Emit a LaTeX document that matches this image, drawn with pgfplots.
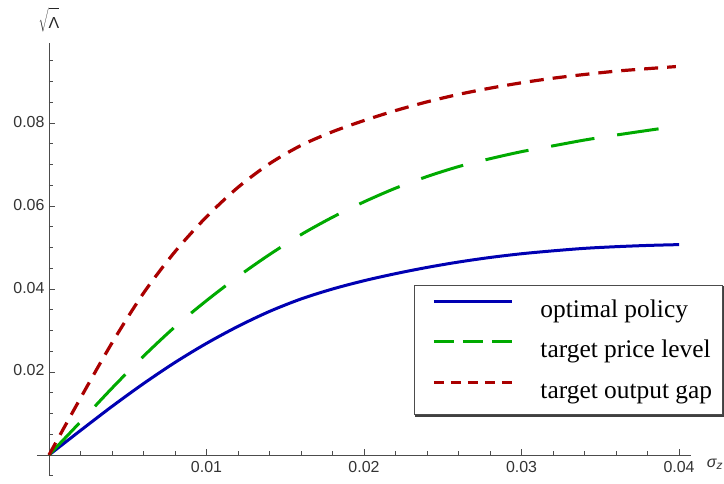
\documentclass[border=0pt]{standalone}
\usepackage{fontspec}
\setmainfont{Liberation Serif}
\newfontfamily\arial{Liberation Sans}
\usepackage{pgfplots}
\pgfplotsset{compat=1.18}
\definecolor{cblue}{RGB}{0,0,178}
\definecolor{cgreen}{RGB}{0,170,0}
\definecolor{cred}{RGB}{170,0,0}
\begin{document}
\begin{tikzpicture}
\path[use as bounding box] (-37bp,-8.25bp) rectangle (687bp,475.75bp);
\begin{axis}[
  at={(0,0)}, anchor=south west,
  scale only axis, width=653.7bp, height=432.8bp,
  xmin=-0.00076, xmax=0.04074, ymin=-0.005, ymax=0.0993,
  scaled ticks=false,
  axis lines=middle,
  axis line style={-, black!70, line width=0.9bp},
  xtick={0.01,0.02,0.03,0.04}, xticklabels={0.01,0.02,0.03,0.04},
  minor xtick={0.002,0.004,0.006,0.008,0.012,0.014,0.016,0.018,0.022,0.024,0.026,0.028,0.032,0.034,0.036,0.038},
  ytick={0.02,0.04,0.06,0.08}, yticklabels={0.02,0.04,0.06,0.08},
  minor ytick={-0.005,0.005,0.01,0.015,0.025,0.03,0.035,0.045,0.05,0.055,0.065,0.07,0.075,0.085,0.09,0.095},
  tick align=inside,
  major tick length=6.5bp, minor tick length=4.3bp,
  every tick/.style={black!70, line width=0.8bp},
  tick label style={font=\arial\fontsize{16}{16}\selectfont, text=black!80},
  xticklabel style={yshift=-3bp},
  yticklabel style={xshift=-1bp, yshift=1.5bp},
  xlabel={\arial\fontsize{16}{16}\selectfont\itshape σ\raisebox{-2bp}{\fontsize{12}{12}\selectfont z}},
  xlabel style={at={(axis cs:0.04074,0)}, anchor=west, inner sep=0pt, xshift=16bp, yshift=-9bp, text=black!80},
  ylabel={\fontsize{16}{16}\selectfont$\sqrt{\vrule width0pt height 18bp depth 2bp\mbox{\arial Λ}}$},
  ylabel style={at={(axis cs:0,0.0993)}, anchor=south, inner sep=0pt, yshift=11bp, rotate=0, text=black!85},
  legend style={name=leg, at={(axis description cs:0.5767,0.1404)}, anchor=south west,
    draw=black!70, line width=1bp, fill=white,
    inner xsep=10bp, inner ysep=11.2bp, row sep=14.3bp,
    font=\fontsize{25.5}{26}\selectfont,
    nodes={inner sep=0pt, text height=21bp, text depth=5bp},
    /tikz/every odd column/.append style={column sep=27bp}},
  legend cell align=left,
  legend image code/.code={\path (0bp,0bp); \draw[#1] (8bp,8bp) -- (86bp,8bp);},
]
\addplot[cblue, line width=3bp, smooth, forget plot] coordinates {
(0,0) (0.002,0.0059) (0.004,0.0117) (0.006,0.0172) (0.008,0.0223) (0.010,0.0269)
(0.012,0.0310) (0.014,0.0346) (0.016,0.0376) (0.018,0.0400) (0.020,0.0420)
(0.022,0.0437) (0.024,0.0452) (0.026,0.0465) (0.028,0.0476) (0.030,0.0485)
(0.032,0.0492) (0.034,0.0498) (0.036,0.0502) (0.038,0.0505) (0.040,0.0507)};
\addplot[cgreen, line width=3bp, smooth, dash pattern=on 44bp off 23bp, forget plot] coordinates {
(0,0) (0.002,0.0080) (0.004,0.0161) (0.006,0.0238) (0.008,0.0309) (0.010,0.0372)
(0.012,0.0430) (0.014,0.0483) (0.016,0.0531) (0.018,0.0573) (0.020,0.0610)
(0.022,0.0643) (0.024,0.0671) (0.026,0.0695) (0.028,0.0714) (0.030,0.0731)
(0.032,0.0745) (0.034,0.0759) (0.036,0.0771) (0.0387,0.0786)};
\addplot[cred, line width=3.2bp, smooth, dash pattern=on 14bp off 9bp, forget plot] coordinates {
(0,0) (0.002,0.0137) (0.004,0.0270) (0.006,0.0390) (0.008,0.0490) (0.010,0.0574)
(0.012,0.0645) (0.014,0.0702) (0.016,0.0746) (0.018,0.0779) (0.020,0.0806)
(0.022,0.0830) (0.024,0.0851) (0.026,0.0869) (0.028,0.0884) (0.030,0.0897)
(0.032,0.0908) (0.034,0.0917) (0.036,0.0925) (0.038,0.0931) (0.0398,0.0936)};
\addlegendimage{cblue, line width=3bp}
\addlegendentry{optimal policy}
\addlegendimage{cgreen, line width=3bp, dash pattern=on 20bp off 9bp}
\addlegendentry{target price level}
\addlegendimage{cred, line width=3bp, dash pattern=on 10bp off 7bp}
\addlegendentry{target output gap}
\end{axis}
\draw[black!75, line width=2bp] ([xshift=1.5bp,yshift=-1.5bp]leg.south west) -- ([xshift=1.5bp,yshift=-1.5bp]leg.south east) -- ([xshift=1.5bp,yshift=-1.5bp]leg.north east);
\end{tikzpicture}
\end{document}
